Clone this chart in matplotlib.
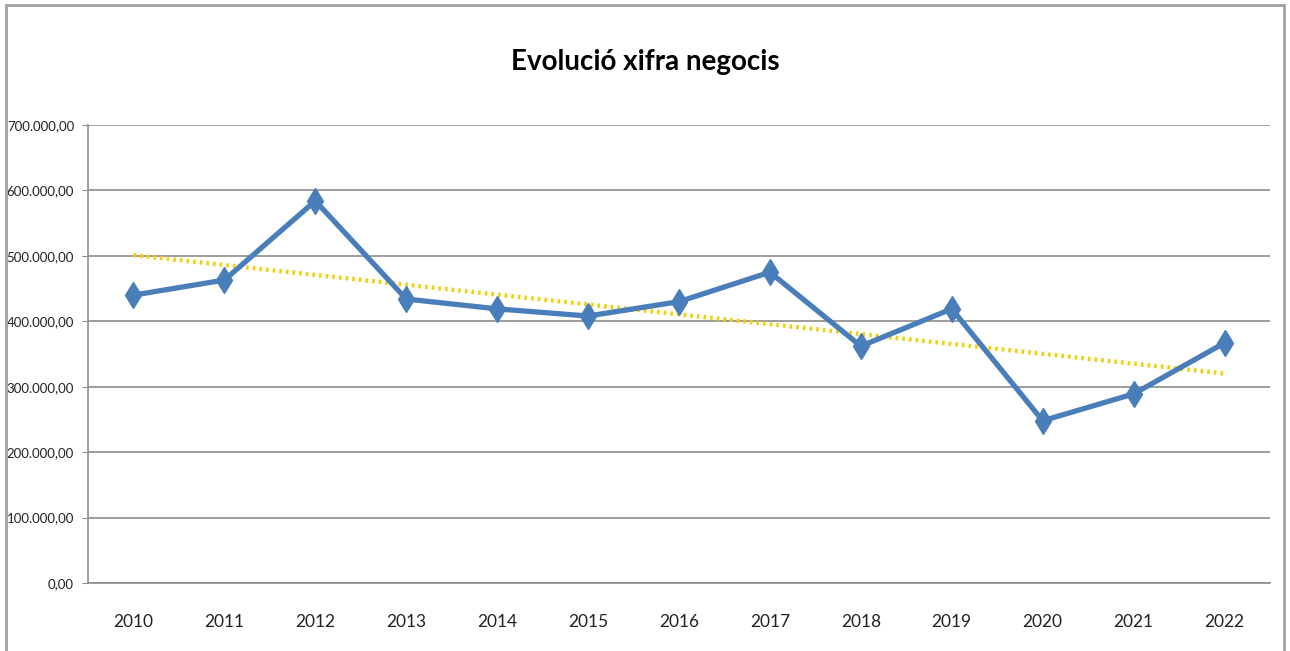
import matplotlib.pyplot as plt
import numpy as np
from matplotlib.ticker import FuncFormatter

years = ['2010', '2011', '2012', '2013', '2014', '2015', '2016',
         '2017', '2018', '2019', '2020', '2021', '2022']
xifra = [440000, 463000, 584000, 434000, 419000, 408000, 430000,
         475000, 362000, 419000, 248000, 289000, 367000]

plt.rcParams['font.family'] = ['Lato', 'DejaVu Sans']

x = np.arange(len(years))
y = np.array(xifra)

# linear trend line like the excel one
coef = np.polyfit(x, y, 1)
trend = np.polyval(coef, x)

fig = plt.figure(figsize=(12.9, 6.51), dpi=100)
ax = fig.add_axes([88 / 1290, 1 - 583 / 651, (1270 - 88) / 1290, (583 - 125) / 651])

# chart border
fig.patches.append(plt.Rectangle((6 / 1290, -0.05), (1284 - 6) / 1290, 1 - 5 / 651 + 0.05,
                                 transform=fig.transFigure, fill=False,
                                 edgecolor='#a0a0a0', linewidth=2))

ax.plot(x, trend, color='#f2d00f', linestyle=(0, (0.6, 0.9)), linewidth=3.2, zorder=3)
ax.plot(x, y, color='#4a7ebb', linewidth=3.8, marker='d', markersize=13, zorder=4)

ax.set_xlim(-0.5, len(years) - 0.5)
ax.set_ylim(0, 700000)
ax.set_yticks(np.arange(0, 700001, 100000))
ax.yaxis.set_major_formatter(FuncFormatter(
    lambda v, p: '{:,.2f}'.format(v).replace(',', 'X').replace('.', ',').replace('X', '.')))
ax.set_xticks(x)
ax.set_xticklabels(years)

ax.grid(axis='y', color='#8c8c8c', linewidth=1.2)
ax.set_axisbelow(True)
for s in ['top', 'right']:
    ax.spines[s].set_visible(False)
ax.spines['left'].set_color('#8c8c8c')
ax.spines['bottom'].set_color('#8c8c8c')
ax.spines['left'].set_linewidth(1.2)
ax.spines['bottom'].set_linewidth(1.2)

ax.tick_params(axis='y', length=4, color='#8c8c8c', labelsize=9.5, pad=6, labelcolor='#222222')
ax.tick_params(axis='x', length=0, labelsize=12.5, pad=22, labelcolor='#222222')

fig.text(645 / 1290, 1 - 62 / 651, 'Evolució xifra negocis', ha='center', va='center',
         fontsize=20, fontweight='bold')

plt.savefig('out.png', dpi=100)
